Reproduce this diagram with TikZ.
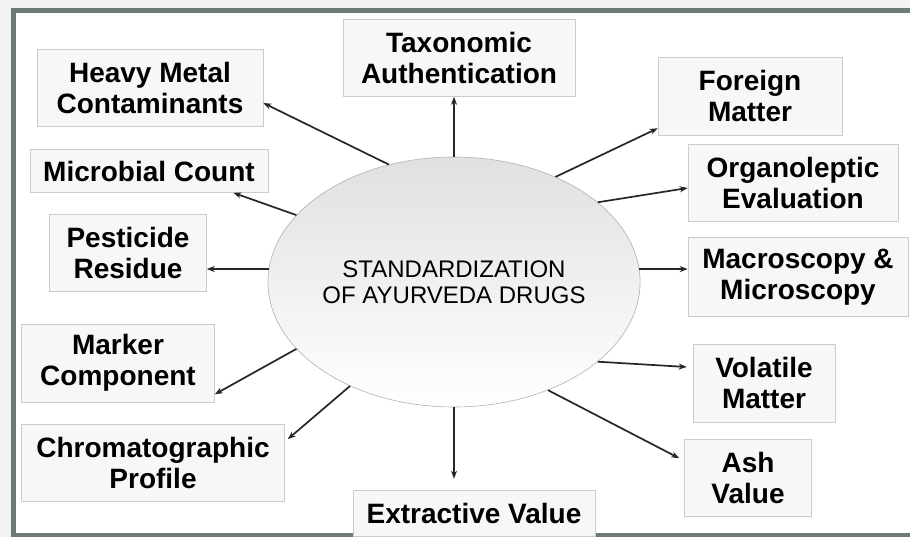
\documentclass[tikz,border=0pt]{standalone}
\usepackage{fontspec}
\setmainfont{Liberation Sans}
\usepackage{tikz}
\usetikzlibrary{shapes.geometric,arrows.meta}

\definecolor{framegray}{RGB}{108,124,116}
\definecolor{pagegray}{RGB}{243,243,243}

\begin{document}
\begin{tikzpicture}[x=1pt,y=-1pt,
    itembox/.style={draw=gray!40, fill=gray!6, line width=0.6pt, inner sep=0pt,
      align=center, font=\bfseries\fontsize{28}{31}\selectfont},
    toarrow/.style={-{Stealth[length=8pt,width=6pt]}, line width=1.7pt, black!85}]
    \useasboundingbox (0,0) rectangle (910,537);
    \clip (0,0) rectangle (910,537);
    \fill[pagegray] (0,0) rectangle (910,537);
    \draw[framegray, line width=5pt, fill=white] (13,11) rectangle (918,535);
    % centre
    \node[ellipse, draw=gray!60, line width=0.6pt, top color=gray!24, bottom color=white,
      minimum width=288pt, minimum height=250pt, inner sep=0pt, align=center,
      font=\fontsize{24}{26}\selectfont] (std) at (454,282) {STANDARDIZATION\\OF AYURVEDA DRUGS};
    % left column
    \node[itembox, minimum width=226pt, minimum height=77pt] (heavy) at (150,88) {Heavy Metal\\Contaminants};
    \node[itembox, minimum width=238pt, minimum height=43pt] (micro) at (149,171) {Microbial Count};
    \node[itembox, minimum width=157pt, minimum height=77pt] (pest) at (128,253) {Pesticide\\Residue};
    \node[itembox, minimum width=193pt, minimum height=78pt] (marker) at (118,363) {Marker\\Component};
    \node[itembox, minimum width=263pt, minimum height=77pt] (chrom) at (153,463) {Chromatographic\\Profile};
    % top and bottom
    \node[itembox, minimum width=232pt, minimum height=77pt] (tax) at (459,58) {Taxonomic\\Authentication};
    \node[itembox, minimum width=242pt, minimum height=46pt] (extr) at (474,513) {Extractive Value};
    % right column
    \node[itembox, minimum width=184pt, minimum height=78pt] (foreign) at (750,96) {Foreign\\Matter};
    \node[itembox, minimum width=210pt, minimum height=77pt] (organo) at (793,183) {Organoleptic\\Evaluation};
    \node[itembox, minimum width=220pt, minimum height=79pt] (macro) at (798,277) {Macroscopy \&\\Microscopy};
    \node[itembox, minimum width=142pt, minimum height=78pt] (volatile) at (764,383) {Volatile\\Matter};
    \node[itembox, minimum width=127pt, minimum height=77pt] (ash) at (748,478) {Ash\\Value};
    % arrows
    \draw[toarrow] (std.north) -- (std.north |- tax.south);
    \draw[toarrow] (std.119) -- ([yshift=-15pt]heavy.east);
    \draw[toarrow] (std.157) -- ([xshift=-35pt]micro.south east);
    \draw[toarrow] (std.176) -- (std.176 -| pest.east);
    \draw[toarrow] (std.203) -- ([yshift=8pt]marker.south east);
    \draw[toarrow] (std.225) -- ([xshift=3pt,yshift=-15pt]chrom.north east);
    \draw[toarrow, shorten >=11pt] (std.south) -- (std.south |- extr.north);
    \draw[toarrow] (std.311) -- ([xshift=-5pt,yshift=-19pt]ash.north west);
    \draw[toarrow] (std.331) -- ([xshift=-6pt,yshift=16pt]volatile.west);
    \draw[toarrow] (std.4) -- (std.4 -| macro.west);
    \draw[toarrow] (std.29) -- ([yshift=-5pt]organo.west);
    \draw[toarrow] (std.46) -- ([yshift=7pt]foreign.south west);
\end{tikzpicture}
\end{document}
